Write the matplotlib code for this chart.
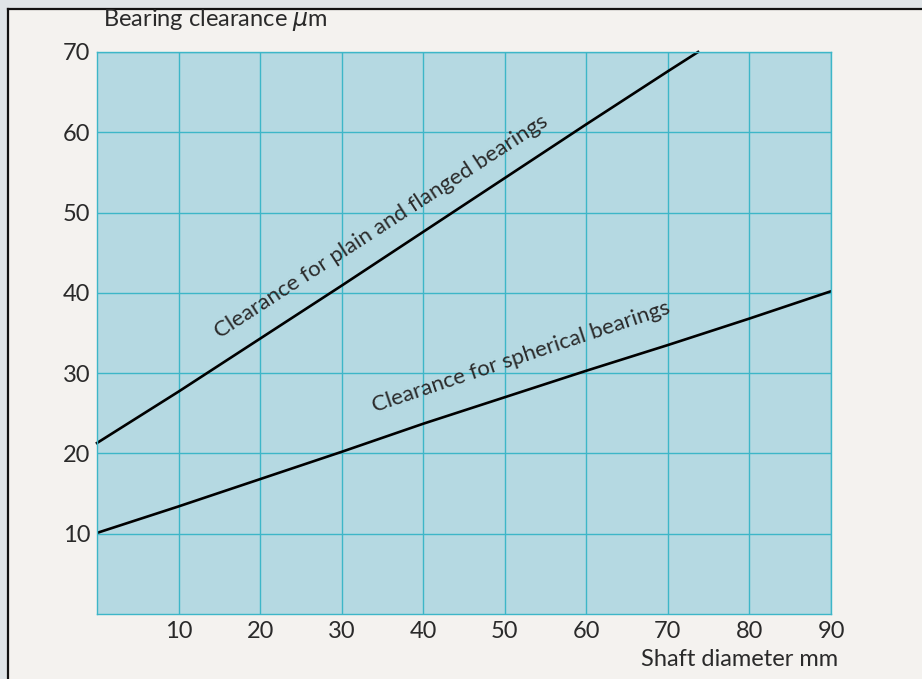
import matplotlib.pyplot as plt
from matplotlib.patches import Rectangle
from matplotlib.lines import Line2D

# data
plain_x = [0, 10, 20, 30, 40, 50, 60, 70, 73.7]
plain_y = [21.3, 27.7, 34.3, 40.9, 47.6, 54.3, 61.0, 67.6, 70.0]
spherical_x = [0, 10, 20, 30, 40, 50, 60, 70, 80, 90]
spherical_y = [10.1, 13.4, 16.8, 20.2, 23.7, 27.0, 30.3, 33.5, 36.8, 40.2]
xticks = [10, 20, 30, 40, 50, 60, 70, 80, 90]
yticks = [10, 20, 30, 40, 50, 60, 70]

plt.rcParams['font.family'] = ['Lato', 'DejaVu Sans']
txt = '#2a2a2a'
grid_c = '#3db6c8'

fig = plt.figure(figsize=(9.22, 6.79), dpi=100, facecolor='#dfe4e7')

# paper panel with black top/left border
fig.add_artist(Rectangle((8/922, 0), 1, 1 - 9/679, transform=fig.transFigure,
                         facecolor='#f4f2ef', edgecolor='none', zorder=-1))
fig.add_artist(Line2D([8/922, 1], [1 - 9/679, 1 - 9/679], transform=fig.transFigure,
                      color='#111111', lw=1.6))
fig.add_artist(Line2D([8/922, 8/922], [0, 1 - 9/679], transform=fig.transFigure,
                      color='#111111', lw=1.6))

ax = fig.add_axes([97/922, 1 - 614/679, (831 - 97)/922, (614 - 52)/679])
ax.set_facecolor('#b5d9e2')
ax.set_xlim(0, 90)
ax.set_ylim(0, 70)
ax.set_xticks(xticks)
ax.set_yticks(yticks)
ax.grid(True, color=grid_c, lw=1.0)
ax.set_axisbelow(True)
ax.tick_params(length=0, labelsize=17, labelcolor=txt, pad=5)
for s in ax.spines.values():
    s.set_color(grid_c)
    s.set_linewidth(1.0)

ax.plot(plain_x, plain_y, color='black', lw=1.9, clip_on=False)
ax.plot(spherical_x, spherical_y, color='black', lw=1.9)

ax.text(34.8, 48.2, 'Clearance for plain and flanged bearings', rotation=33,
        ha='center', va='center', fontsize=16, color=txt, rotation_mode='anchor')
ax.text(52.0, 32.0, 'Clearance for spherical bearings', rotation=18.5,
        ha='center', va='center', fontsize=16, color=txt, rotation_mode='anchor')

fig.text(103/922, 1 - 20/679, 'Bearing clearance $\\mu$m', ha='left', va='center',
         fontsize=17, color=txt)
fig.text(838/922, 1 - 660/679, 'Shaft diameter mm', ha='right', va='center',
         fontsize=17, color=txt)

fig.savefig('out.png', dpi=100, facecolor=fig.get_facecolor())
